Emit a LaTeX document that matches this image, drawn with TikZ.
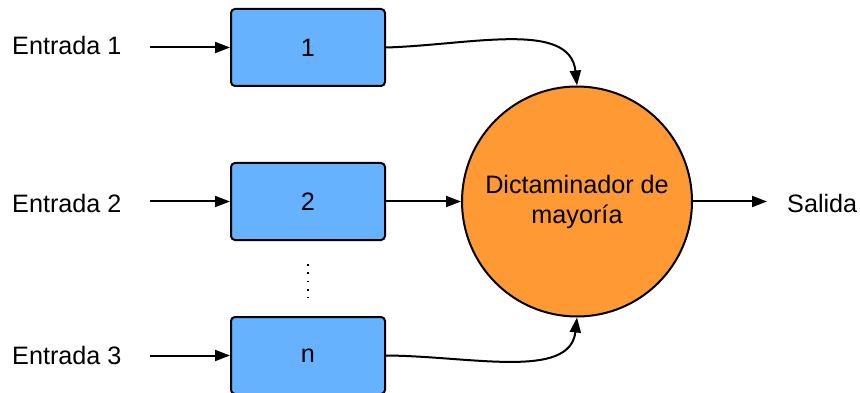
\documentclass[tikz,border=0pt]{standalone}
\usepackage{fontspec}
\setmainfont{Liberation Sans}
\usetikzlibrary{arrows.meta}
\definecolor{boxblue}{RGB}{102,178,255}
\definecolor{judgeorange}{RGB}{255,153,51}
\begin{document}
\begin{tikzpicture}[x=1pt,y=-1pt,
  font=\fontsize{25.2}{30}\selectfont,
  unitbox/.style={draw=black,line width=2pt,fill=boxblue,rounded corners=4pt,
    minimum width=154pt,minimum height=77pt,inner sep=0pt},
  flow/.style={line width=2pt,-{Triangle[length=15pt,width=11pt]}},
  lbl/.style={inner sep=0pt,anchor=west}]
  \useasboundingbox (0,0) rectangle (860,393);
  % redundant units
  \node[unitbox] (u1) at (308,47.5) {1};
  \node[unitbox] (u2) at (308,201.5) {2};
  \node[unitbox] (un) at (308,355.5) {n};
  % majority voter
  \node[draw=black,line width=2pt,fill=judgeorange,circle,minimum size=230pt,
        inner sep=0pt,align=center] (v) at (577,201.5) {Dictaminador de\\[0pt]mayoría};
  % inputs
  \node[lbl] (in1) at (12,45) {Entrada 1};
  \node[lbl] (in2) at (12,203) {Entrada 2};
  \node[lbl] (in3) at (12,355) {Entrada 3};
  \coordinate (s1) at (150,47.5);
  \coordinate (s2) at (150,201.5);
  \coordinate (s3) at (150,355.5);
  \draw[flow] (s1) -- (u1.west);
  \draw[flow] (s2) -- (u2.west);
  \draw[flow] (s3) -- (un.west);
  % unit outputs to the voter
  \draw[flow] (u1.east) .. controls (470,45) and (570,20) .. (v.north);
  \draw[flow] (u2.east) -- (v.west);
  \draw[flow] (un.east) .. controls (470,356) and (570,380) .. (v.south);
  % output
  \node[lbl] (out) at (787,203) {Salida};
  \coordinate (o) at (767,201.5);
  \draw[flow] (v.east) -- (o);
  % ellipsis between units
  \draw[line width=1.8pt,dash pattern=on 1.8pt off 6.5pt,line cap=butt] (308,264) -- (308,298);
\end{tikzpicture}
\end{document}
